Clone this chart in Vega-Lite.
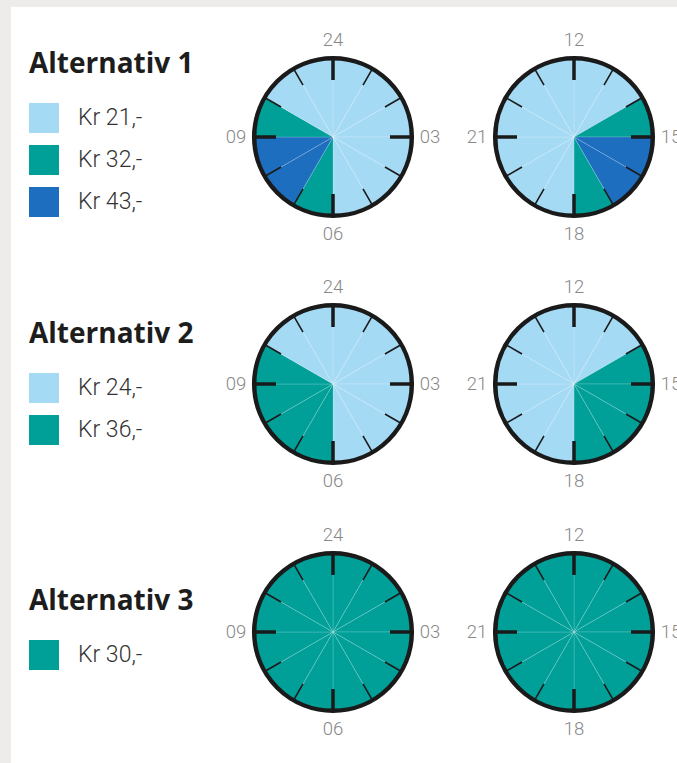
{
  "$schema": "https://vega.github.io/schema/vega-lite/v6.json",
  "background": "#edecea",
  "padding": {"left": 11, "top": 7, "right": 0, "bottom": 0},
  "spacing": 0,
  "bounds": "flush",
  "datasets": {
    "wedges": [
      {"alt":"Alternativ 1","clock":"00-12","from":0,"to":1,"price":"Kr 21,-"},
      {"alt":"Alternativ 1","clock":"00-12","from":1,"to":2,"price":"Kr 21,-"},
      {"alt":"Alternativ 1","clock":"00-12","from":2,"to":3,"price":"Kr 21,-"},
      {"alt":"Alternativ 1","clock":"00-12","from":3,"to":4,"price":"Kr 21,-"},
      {"alt":"Alternativ 1","clock":"00-12","from":4,"to":5,"price":"Kr 21,-"},
      {"alt":"Alternativ 1","clock":"00-12","from":5,"to":6,"price":"Kr 21,-"},
      {"alt":"Alternativ 1","clock":"00-12","from":6,"to":7,"price":"Kr 32,-"},
      {"alt":"Alternativ 1","clock":"00-12","from":7,"to":8,"price":"Kr 43,-"},
      {"alt":"Alternativ 1","clock":"00-12","from":8,"to":9,"price":"Kr 43,-"},
      {"alt":"Alternativ 1","clock":"00-12","from":9,"to":10,"price":"Kr 32,-"},
      {"alt":"Alternativ 1","clock":"00-12","from":10,"to":11,"price":"Kr 21,-"},
      {"alt":"Alternativ 1","clock":"00-12","from":11,"to":12,"price":"Kr 21,-"},
      {"alt":"Alternativ 1","clock":"12-24","from":0,"to":1,"price":"Kr 21,-"},
      {"alt":"Alternativ 1","clock":"12-24","from":1,"to":2,"price":"Kr 21,-"},
      {"alt":"Alternativ 1","clock":"12-24","from":2,"to":3,"price":"Kr 32,-"},
      {"alt":"Alternativ 1","clock":"12-24","from":3,"to":4,"price":"Kr 43,-"},
      {"alt":"Alternativ 1","clock":"12-24","from":4,"to":5,"price":"Kr 43,-"},
      {"alt":"Alternativ 1","clock":"12-24","from":5,"to":6,"price":"Kr 32,-"},
      {"alt":"Alternativ 1","clock":"12-24","from":6,"to":7,"price":"Kr 21,-"},
      {"alt":"Alternativ 1","clock":"12-24","from":7,"to":8,"price":"Kr 21,-"},
      {"alt":"Alternativ 1","clock":"12-24","from":8,"to":9,"price":"Kr 21,-"},
      {"alt":"Alternativ 1","clock":"12-24","from":9,"to":10,"price":"Kr 21,-"},
      {"alt":"Alternativ 1","clock":"12-24","from":10,"to":11,"price":"Kr 21,-"},
      {"alt":"Alternativ 1","clock":"12-24","from":11,"to":12,"price":"Kr 21,-"},
      {"alt":"Alternativ 2","clock":"00-12","from":0,"to":1,"price":"Kr 24,-"},
      {"alt":"Alternativ 2","clock":"00-12","from":1,"to":2,"price":"Kr 24,-"},
      {"alt":"Alternativ 2","clock":"00-12","from":2,"to":3,"price":"Kr 24,-"},
      {"alt":"Alternativ 2","clock":"00-12","from":3,"to":4,"price":"Kr 24,-"},
      {"alt":"Alternativ 2","clock":"00-12","from":4,"to":5,"price":"Kr 24,-"},
      {"alt":"Alternativ 2","clock":"00-12","from":5,"to":6,"price":"Kr 24,-"},
      {"alt":"Alternativ 2","clock":"00-12","from":6,"to":7,"price":"Kr 36,-"},
      {"alt":"Alternativ 2","clock":"00-12","from":7,"to":8,"price":"Kr 36,-"},
      {"alt":"Alternativ 2","clock":"00-12","from":8,"to":9,"price":"Kr 36,-"},
      {"alt":"Alternativ 2","clock":"00-12","from":9,"to":10,"price":"Kr 36,-"},
      {"alt":"Alternativ 2","clock":"00-12","from":10,"to":11,"price":"Kr 24,-"},
      {"alt":"Alternativ 2","clock":"00-12","from":11,"to":12,"price":"Kr 24,-"},
      {"alt":"Alternativ 2","clock":"12-24","from":0,"to":1,"price":"Kr 24,-"},
      {"alt":"Alternativ 2","clock":"12-24","from":1,"to":2,"price":"Kr 24,-"},
      {"alt":"Alternativ 2","clock":"12-24","from":2,"to":3,"price":"Kr 36,-"},
      {"alt":"Alternativ 2","clock":"12-24","from":3,"to":4,"price":"Kr 36,-"},
      {"alt":"Alternativ 2","clock":"12-24","from":4,"to":5,"price":"Kr 36,-"},
      {"alt":"Alternativ 2","clock":"12-24","from":5,"to":6,"price":"Kr 36,-"},
      {"alt":"Alternativ 2","clock":"12-24","from":6,"to":7,"price":"Kr 24,-"},
      {"alt":"Alternativ 2","clock":"12-24","from":7,"to":8,"price":"Kr 24,-"},
      {"alt":"Alternativ 2","clock":"12-24","from":8,"to":9,"price":"Kr 24,-"},
      {"alt":"Alternativ 2","clock":"12-24","from":9,"to":10,"price":"Kr 24,-"},
      {"alt":"Alternativ 2","clock":"12-24","from":10,"to":11,"price":"Kr 24,-"},
      {"alt":"Alternativ 2","clock":"12-24","from":11,"to":12,"price":"Kr 24,-"},
      {"alt":"Alternativ 3","clock":"00-12","from":0,"to":1,"price":"Kr 30,-"},
      {"alt":"Alternativ 3","clock":"00-12","from":1,"to":2,"price":"Kr 30,-"},
      {"alt":"Alternativ 3","clock":"00-12","from":2,"to":3,"price":"Kr 30,-"},
      {"alt":"Alternativ 3","clock":"00-12","from":3,"to":4,"price":"Kr 30,-"},
      {"alt":"Alternativ 3","clock":"00-12","from":4,"to":5,"price":"Kr 30,-"},
      {"alt":"Alternativ 3","clock":"00-12","from":5,"to":6,"price":"Kr 30,-"},
      {"alt":"Alternativ 3","clock":"00-12","from":6,"to":7,"price":"Kr 30,-"},
      {"alt":"Alternativ 3","clock":"00-12","from":7,"to":8,"price":"Kr 30,-"},
      {"alt":"Alternativ 3","clock":"00-12","from":8,"to":9,"price":"Kr 30,-"},
      {"alt":"Alternativ 3","clock":"00-12","from":9,"to":10,"price":"Kr 30,-"},
      {"alt":"Alternativ 3","clock":"00-12","from":10,"to":11,"price":"Kr 30,-"},
      {"alt":"Alternativ 3","clock":"00-12","from":11,"to":12,"price":"Kr 30,-"},
      {"alt":"Alternativ 3","clock":"12-24","from":0,"to":1,"price":"Kr 30,-"},
      {"alt":"Alternativ 3","clock":"12-24","from":1,"to":2,"price":"Kr 30,-"},
      {"alt":"Alternativ 3","clock":"12-24","from":2,"to":3,"price":"Kr 30,-"},
      {"alt":"Alternativ 3","clock":"12-24","from":3,"to":4,"price":"Kr 30,-"},
      {"alt":"Alternativ 3","clock":"12-24","from":4,"to":5,"price":"Kr 30,-"},
      {"alt":"Alternativ 3","clock":"12-24","from":5,"to":6,"price":"Kr 30,-"},
      {"alt":"Alternativ 3","clock":"12-24","from":6,"to":7,"price":"Kr 30,-"},
      {"alt":"Alternativ 3","clock":"12-24","from":7,"to":8,"price":"Kr 30,-"},
      {"alt":"Alternativ 3","clock":"12-24","from":8,"to":9,"price":"Kr 30,-"},
      {"alt":"Alternativ 3","clock":"12-24","from":9,"to":10,"price":"Kr 30,-"},
      {"alt":"Alternativ 3","clock":"12-24","from":10,"to":11,"price":"Kr 30,-"},
      {"alt":"Alternativ 3","clock":"12-24","from":11,"to":12,"price":"Kr 30,-"}
    ],
    "ticks": [
      {"clock":"00-12","dial":0,"kind":"major"},{"clock":"00-12","dial":1,"kind":"minor"},{"clock":"00-12","dial":2,"kind":"minor"},
      {"clock":"00-12","dial":3,"kind":"major"},{"clock":"00-12","dial":4,"kind":"minor"},{"clock":"00-12","dial":5,"kind":"minor"},
      {"clock":"00-12","dial":6,"kind":"major"},{"clock":"00-12","dial":7,"kind":"minor"},{"clock":"00-12","dial":8,"kind":"minor"},
      {"clock":"00-12","dial":9,"kind":"major"},{"clock":"00-12","dial":10,"kind":"minor"},{"clock":"00-12","dial":11,"kind":"minor"},
      {"clock":"12-24","dial":0,"kind":"major"},{"clock":"12-24","dial":1,"kind":"minor"},{"clock":"12-24","dial":2,"kind":"minor"},
      {"clock":"12-24","dial":3,"kind":"major"},{"clock":"12-24","dial":4,"kind":"minor"},{"clock":"12-24","dial":5,"kind":"minor"},
      {"clock":"12-24","dial":6,"kind":"major"},{"clock":"12-24","dial":7,"kind":"minor"},{"clock":"12-24","dial":8,"kind":"minor"},
      {"clock":"12-24","dial":9,"kind":"major"},{"clock":"12-24","dial":10,"kind":"minor"},{"clock":"12-24","dial":11,"kind":"minor"}
    ],
    "faces": [{"clock":"00-12"},{"clock":"12-24"}],
    "labels": [
      {"clock":"00-12","dial":0,"label":"24"},{"clock":"00-12","dial":3,"label":"03"},
      {"clock":"00-12","dial":6,"label":"06"},{"clock":"00-12","dial":9,"label":"09"},
      {"clock":"12-24","dial":0,"label":"12"},{"clock":"12-24","dial":3,"label":"15"},
      {"clock":"12-24","dial":6,"label":"18"},{"clock":"12-24","dial":9,"label":"21"}
    ]
  },
  "vconcat": [
    {
      "width": 666, "height": 260,
      "layer": [
        {"data": {"name": "wedges"}, "transform": [{"filter": {"field": "alt", "equal": "Alternativ 1"}}],
         "mark": {"type": "arc", "outerRadius": 79, "stroke": "white", "strokeWidth": 1, "strokeOpacity": 0.17},
         "encoding": {
           "x": {"field": "clock", "type": "nominal", "scale": {"type": "point", "padding": 0, "domain": ["00-12","12-24"], "range": [322, 563]}, "axis": null},
           "theta": {"field": "from", "type": "quantitative", "stack": null, "scale": {"type": "linear", "domain": [0, 12], "range": [0, 6.283185307179586], "zero": false, "nice": false}},
           "theta2": {"field": "to"},
           "color": {"field": "price", "type": "nominal", "scale": {"domain": ["Kr 21,-","Kr 32,-","Kr 43,-"], "range": ["#a5daf5","#00a099","#1e6ebf"]},
             "legend": {"title": "Alternativ 1", "orient": "none", "legendX": 18, "legendY": 44}}
         }},
        {"data": {"name": "ticks"}, "transform": [{"filter": {"field": "kind", "equal": "minor"}}],
         "mark": {"type": "arc", "innerRadius": 60, "outerRadius": 79, "filled": false, "stroke": "#1a1a1a", "strokeWidth": 1.6},
         "encoding": {
           "x": {"field": "clock", "type": "nominal", "scale": {"type": "point", "padding": 0, "domain": ["00-12","12-24"], "range": [322, 563]}, "axis": null},
           "theta": {"field": "dial", "type": "quantitative", "stack": null},
           "theta2": {"field": "dial"}
         }},
        {"data": {"name": "ticks"}, "transform": [{"filter": {"field": "kind", "equal": "major"}}],
         "mark": {"type": "arc", "innerRadius": 57, "outerRadius": 79, "filled": false, "stroke": "#1a1a1a", "strokeWidth": 3.5},
         "encoding": {
           "x": {"field": "clock", "type": "nominal", "scale": {"type": "point", "padding": 0, "domain": ["00-12","12-24"], "range": [322, 563]}, "axis": null},
           "theta": {"field": "dial", "type": "quantitative", "stack": null},
           "theta2": {"field": "dial"}
         }},
        {"data": {"name": "faces"},
         "mark": {"type": "point", "shape": "circle", "filled": false, "stroke": "#1a1a1a", "strokeWidth": 4.5, "size": 24838, "opacity": 1},
         "encoding": {
           "x": {"field": "clock", "type": "nominal", "scale": {"type": "point", "padding": 0, "domain": ["00-12","12-24"], "range": [322, 563]}, "axis": null}
         }},
        {"data": {"name": "labels"},
         "mark": {"type": "text", "radius": 97, "font": "Roboto", "fontSize": 18.5, "fontWeight": 300, "color": "#888888", "align": "center", "baseline": "middle", "clip": true},
         "encoding": {
           "x": {"field": "clock", "type": "nominal", "scale": {"type": "point", "padding": 0, "domain": ["00-12","12-24"], "range": [322, 563]}, "axis": null},
           "theta": {"field": "dial", "type": "quantitative"},
           "text": {"field": "label", "type": "nominal"}
         }}
      ]
    },
    {
      "width": 666, "height": 234,
      "layer": [
        {"data": {"name": "wedges"}, "transform": [{"filter": {"field": "alt", "equal": "Alternativ 2"}}],
         "mark": {"type": "arc", "outerRadius": 79, "stroke": "white", "strokeWidth": 1, "strokeOpacity": 0.17},
         "encoding": {
           "x": {"field": "clock", "type": "nominal", "scale": {"type": "point", "padding": 0, "domain": ["00-12","12-24"], "range": [322, 563]}, "axis": null},
           "theta": {"field": "from", "type": "quantitative", "stack": null, "scale": {"type": "linear", "domain": [0, 12], "range": [0, 6.283185307179586], "zero": false, "nice": false}},
           "theta2": {"field": "to"},
           "color": {"field": "price", "type": "nominal", "scale": {"domain": ["Kr 24,-","Kr 36,-"], "range": ["#a5daf5","#00a099"]},
             "legend": {"title": "Alternativ 2", "orient": "none", "legendX": 18, "legendY": 54}}
         }},
        {"data": {"name": "ticks"}, "transform": [{"filter": {"field": "kind", "equal": "minor"}}],
         "mark": {"type": "arc", "innerRadius": 60, "outerRadius": 79, "filled": false, "stroke": "#1a1a1a", "strokeWidth": 1.6},
         "encoding": {
           "x": {"field": "clock", "type": "nominal", "scale": {"type": "point", "padding": 0, "domain": ["00-12","12-24"], "range": [322, 563]}, "axis": null},
           "theta": {"field": "dial", "type": "quantitative", "stack": null},
           "theta2": {"field": "dial"}
         }},
        {"data": {"name": "ticks"}, "transform": [{"filter": {"field": "kind", "equal": "major"}}],
         "mark": {"type": "arc", "innerRadius": 57, "outerRadius": 79, "filled": false, "stroke": "#1a1a1a", "strokeWidth": 3.5},
         "encoding": {
           "x": {"field": "clock", "type": "nominal", "scale": {"type": "point", "padding": 0, "domain": ["00-12","12-24"], "range": [322, 563]}, "axis": null},
           "theta": {"field": "dial", "type": "quantitative", "stack": null},
           "theta2": {"field": "dial"}
         }},
        {"data": {"name": "faces"},
         "mark": {"type": "point", "shape": "circle", "filled": false, "stroke": "#1a1a1a", "strokeWidth": 4.5, "size": 24838, "opacity": 1},
         "encoding": {
           "x": {"field": "clock", "type": "nominal", "scale": {"type": "point", "padding": 0, "domain": ["00-12","12-24"], "range": [322, 563]}, "axis": null}
         }},
        {"data": {"name": "labels"},
         "mark": {"type": "text", "radius": 97, "font": "Roboto", "fontSize": 18.5, "fontWeight": 300, "color": "#888888", "align": "center", "baseline": "middle", "clip": true},
         "encoding": {
           "x": {"field": "clock", "type": "nominal", "scale": {"type": "point", "padding": 0, "domain": ["00-12","12-24"], "range": [322, 563]}, "axis": null},
           "theta": {"field": "dial", "type": "quantitative"},
           "text": {"field": "label", "type": "nominal"}
         }}
      ]
    },
    {
      "width": 666, "height": 262,
      "layer": [
        {"data": {"name": "wedges"}, "transform": [{"filter": {"field": "alt", "equal": "Alternativ 3"}}],
         "mark": {"type": "arc", "outerRadius": 79, "stroke": "white", "strokeWidth": 1, "strokeOpacity": 0.17},
         "encoding": {
           "x": {"field": "clock", "type": "nominal", "scale": {"type": "point", "padding": 0, "domain": ["00-12","12-24"], "range": [322, 563]}, "axis": null},
           "theta": {"field": "from", "type": "quantitative", "stack": null, "scale": {"type": "linear", "domain": [0, 12], "range": [0, 6.283185307179586], "zero": false, "nice": false}},
           "theta2": {"field": "to"},
           "color": {"field": "price", "type": "nominal", "scale": {"domain": ["Kr 30,-"], "range": ["#00a099"]},
             "legend": {"title": "Alternativ 3", "orient": "none", "legendX": 18, "legendY": 87}}
         }},
        {"data": {"name": "ticks"}, "transform": [{"filter": {"field": "kind", "equal": "minor"}}],
         "mark": {"type": "arc", "innerRadius": 60, "outerRadius": 79, "filled": false, "stroke": "#1a1a1a", "strokeWidth": 1.6},
         "encoding": {
           "x": {"field": "clock", "type": "nominal", "scale": {"type": "point", "padding": 0, "domain": ["00-12","12-24"], "range": [322, 563]}, "axis": null},
           "theta": {"field": "dial", "type": "quantitative", "stack": null},
           "theta2": {"field": "dial"}
         }},
        {"data": {"name": "ticks"}, "transform": [{"filter": {"field": "kind", "equal": "major"}}],
         "mark": {"type": "arc", "innerRadius": 57, "outerRadius": 79, "filled": false, "stroke": "#1a1a1a", "strokeWidth": 3.5},
         "encoding": {
           "x": {"field": "clock", "type": "nominal", "scale": {"type": "point", "padding": 0, "domain": ["00-12","12-24"], "range": [322, 563]}, "axis": null},
           "theta": {"field": "dial", "type": "quantitative", "stack": null},
           "theta2": {"field": "dial"}
         }},
        {"data": {"name": "faces"},
         "mark": {"type": "point", "shape": "circle", "filled": false, "stroke": "#1a1a1a", "strokeWidth": 4.5, "size": 24838, "opacity": 1},
         "encoding": {
           "x": {"field": "clock", "type": "nominal", "scale": {"type": "point", "padding": 0, "domain": ["00-12","12-24"], "range": [322, 563]}, "axis": null}
         }},
        {"data": {"name": "labels"},
         "mark": {"type": "text", "radius": 97, "font": "Roboto", "fontSize": 18.5, "fontWeight": 300, "color": "#888888", "align": "center", "baseline": "middle", "clip": true},
         "encoding": {
           "x": {"field": "clock", "type": "nominal", "scale": {"type": "point", "padding": 0, "domain": ["00-12","12-24"], "range": [322, 563]}, "axis": null},
           "theta": {"field": "dial", "type": "quantitative"},
           "text": {"field": "label", "type": "nominal"}
         }}
      ]
    }
  ],
  "resolve": {"scale": {"color": "independent"}, "legend": {"color": "independent"}},
  "config": {
    "view": {"stroke": null, "fill": "white"},
    "legend": {
      "symbolType": "square", "symbolSize": 900, "symbolStrokeWidth": 0, "symbolOpacity": 1,
      "labelFont": "Roboto", "labelFontSize": 23, "labelFontWeight": 300, "labelColor": "#333333", "labelOffset": 19, "labelLimit": 300,
      "rowPadding": 12, "padding": 0,
      "titleFont": "Open Sans", "titleFontSize": 28, "titleFontWeight": "bold", "titleColor": "#1d1d1d", "titlePadding": 24, "titleLimit": 400
    }
  }
}
